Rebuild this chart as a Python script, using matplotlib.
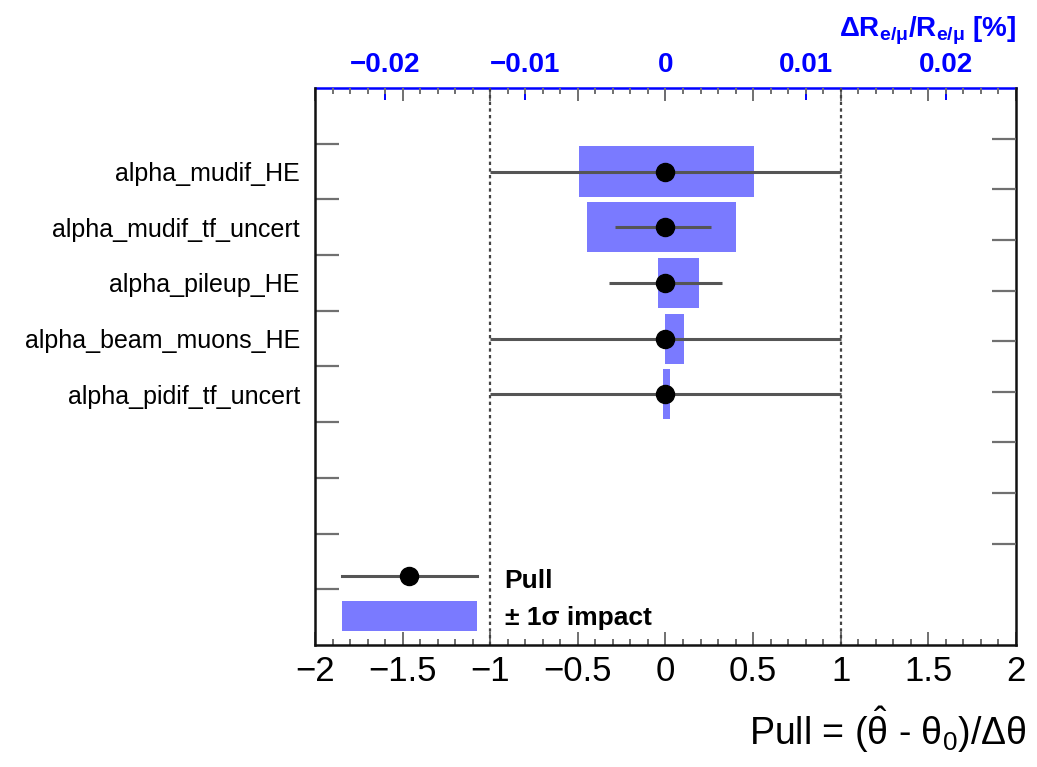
import numpy as np
import matplotlib.pyplot as plt
from matplotlib.lines import Line2D
from matplotlib.patches import Patch

plt.rcParams['font.family'] = ['Liberation Sans', 'DejaVu Sans']
plt.rcParams['mathtext.fontset'] = 'custom'
plt.rcParams['mathtext.rm'] = 'Liberation Sans'
plt.rcParams['mathtext.it'] = 'Liberation Sans:italic'
plt.rcParams['mathtext.bf'] = 'Liberation Sans:bold'

params = ['alpha_mudif_HE', 'alpha_mudif_tf_uncert', 'alpha_pileup_HE',
          'alpha_beam_muons_HE', 'alpha_pidif_tf_uncert']
pull = [0.0, 0.0, 0.0, 0.0, 0.0]
pull_err_lo = [1.0, 0.29, 0.32, 1.0, 1.0]
pull_err_hi = [1.0, 0.26, 0.32, 1.0, 1.0]
impact_lo = [-0.0062, -0.0056, -0.0005, 0.0000, -0.00016]   # dR/R [%]
impact_hi = [0.0063, 0.0050, 0.0024, 0.0013, 0.00034]

ypos = np.arange(len(params)) + 1.5
blue_fill = '#7a7aff'
tick_grey = '#707070'

fig = plt.figure(figsize=(10.37, 7.67), dpi=100)
ax = fig.add_axes([0.3038, 0.1591, 0.6759, 0.7262])
ax2 = ax.twiny()   # impact scale on top
ax3 = ax.twinx()   # right-hand frame ticks
ax2.set_zorder(1); ax.set_zorder(2); ax3.set_zorder(3)
ax.patch.set_visible(False)

# impact boxes
ax2.barh(ypos, np.array(impact_hi) - np.array(impact_lo), left=impact_lo,
         height=0.9, color=blue_fill, edgecolor='none')
ax2.set_xlim(-0.025, 0.025)
ax2.set_xticks([-0.02, -0.01, 0, 0.01, 0.02])
ax2.set_xticklabels(['\u22120.02', '\u22120.01', '0', '0.01', '0.02'])
ax2.set_xticks(np.arange(-0.025, 0.0251, 0.005), minor=True)
ax2.tick_params(axis='x', which='both', direction='in', colors='blue', width=1.4,
                labelsize=20, pad=7)
ax2.tick_params(axis='x', which='major', length=8.5)
ax2.tick_params(axis='x', which='minor', length=3.5)
for lbl in ax2.get_xticklabels():
    lbl.set_fontweight('bold')
for s in ['left', 'right', 'bottom']:
    ax2.spines[s].set_visible(False)
ax2.spines['top'].set_color('blue')
ax2.spines['top'].set_linewidth(1.8)

# pulls
ax.axvline(-1, color='#444444', lw=1.6, ls=(0, (1.5, 1.5)))
ax.axvline(1, color='#444444', lw=1.6, ls=(0, (1.5, 1.5)))
ax.errorbar(pull, ypos, xerr=[pull_err_lo, pull_err_hi], fmt='o', color='black',
            ecolor='#555555', elinewidth=2.2, markersize=13, capsize=0)
ax.set_xlim(-2, 2)
ax.set_ylim(10, 0)
ax2.set_ylim(10, 0)
ax.set_xticks(np.arange(-2, 2.01, 0.5))
ax.set_xticklabels(['\u22122', '\u22121.5', '\u22121', '\u22120.5', '0', '0.5', '1', '1.5', '2'])
ax.set_xticks(np.arange(-2, 2.01, 0.1), minor=True)
ax.tick_params(axis='x', which='both', direction='in', top=True, bottom=True,
               color=tick_grey, width=1.4, labelsize=25, pad=7)
ax.tick_params(axis='x', which='major', length=9.5)
ax.tick_params(axis='x', which='minor', length=4)
ax.set_yticks(ypos)
ax.set_yticklabels(params)
ax.set_yticks(np.arange(1, 10), minor=True)
ax.tick_params(axis='y', which='major', length=0, labelsize=18, pad=11)
ax.tick_params(axis='y', which='minor', direction='in', length=17, width=1.6,
               color=tick_grey, left=True, right=False)
ax.spines['top'].set_visible(False)
for s in ['left', 'right', 'bottom']:
    ax.spines[s].set_linewidth(1.8)
    ax.spines[s].set_color('#111111')

ax3.set_ylim(11, 0)
ax3.set_yticks(np.arange(1, 10))
ax3.tick_params(axis='y', direction='in', length=17, width=1.6, color=tick_grey,
                labelright=False)
for s in ax3.spines.values():
    s.set_visible(False)

handles = [Line2D([], [], color='#555555', lw=2.2, marker='o', mfc='black',
                  mec='black', ms=13),
           Patch(facecolor=blue_fill, edgecolor='none')]
ax.legend(handles, ['Pull', '\u00b1 1\u03c3 impact'], loc='lower left',
          bbox_to_anchor=(0.0385, 0.0251), frameon=False, borderpad=0,
          borderaxespad=0, handlelength=5.1, handleheight=1.37,
          labelspacing=0.25, handletextpad=1.06,
          prop={'size': 19, 'weight': 'bold'})

fig.text(0.98, 0.952, r'$\mathbf{\Delta R_{e/\mu}/R_{e/\mu}}$ [%]', ha='right',
         va='baseline', color='blue', fontsize=20, fontweight='bold')
fig.text(0.99, 0.0287, r'Pull = ($\mathrm{\hat{\theta}}$ - $\mathrm{\theta_{0}}$)/$\mathrm{\Delta\theta}$',
         ha='right', va='baseline', fontsize=27)

fig.savefig('out.png', dpi=100)
